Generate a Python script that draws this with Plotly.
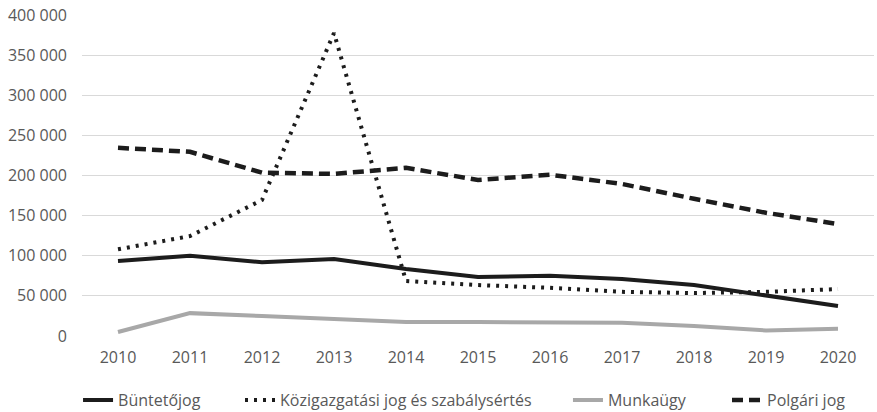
import plotly.graph_objects as go

years = ["2010", "2011", "2012", "2013", "2014", "2015", "2016", "2017", "2018", "2019", "2020"]
buntetojog = [93500, 100000, 92000, 96000, 83500, 73500, 75000, 71000, 63500, 50000, 37500]
kozigazgatasi = [108000, 124500, 169500, 377500, 68500, 63500, 60000, 55000, 53500, 55000, 58500]
munkaugy = [5000, 28500, 25000, 21000, 17500, 17500, 17000, 16500, 12500, 7000, 9000]
polgari = [234500, 229500, 203500, 202000, 209500, 194500, 201000, 189500, 171000, 153500, 139500]

y_ticks = [0, 50000, 100000, 150000, 200000, 250000, 300000, 350000, 400000]
y_ticktext = ["0", "50 000", "100 000", "150 000", "200 000", "250 000", "300 000", "350 000", "400 000"]

FONT = "Open Sans, sans-serif"
TXT = "#595959"

fig = go.Figure()
fig.add_trace(go.Scatter(x=years, y=buntetojog, name="Büntetőjog", mode="lines",
                         line=dict(color="#1c1c1c", width=4), legend="legend"))
fig.add_trace(go.Scatter(x=years, y=kozigazgatasi, name="Közigazgatási jog és szabálysértés", mode="lines",
                         line=dict(color="#1c1c1c", width=4, dash="3px,6px"), legend="legend2"))
fig.add_trace(go.Scatter(x=years, y=munkaugy, name="Munkaügy", mode="lines",
                         line=dict(color="#a8a8a8", width=4), legend="legend3"))
fig.add_trace(go.Scatter(x=years, y=polgari, name="Polgári jog", mode="lines",
                         line=dict(color="#1c1c1c", width=4.5, dash="11px,6px"), legend="legend4"))

def leg(x):
    return dict(orientation="h", x=x, xanchor="left", y=-0.2, yanchor="middle",
                font=dict(family=FONT, size=16, color=TXT), bgcolor="rgba(0,0,0,0)")

fig.update_layout(
    width=877, height=412,
    margin=dict(l=82, r=3, t=15, b=76, autoexpand=False),
    paper_bgcolor="white", plot_bgcolor="white",
    font=dict(family=FONT, size=16, color=TXT),
    showlegend=True,
    legend=leg(-0.005),
    legend2=leg(0.1995),
    legend3=leg(0.6136),
    legend4=leg(0.8144),
)
fig.update_xaxes(type="category", showgrid=False, zeroline=False, showline=False,
                 ticks="", ticklabelstandoff=10,
                 tickfont=dict(family=FONT, size=16, color=TXT), range=[-0.5, 10.5])
fig.update_yaxes(range=[0, 400000], tickvals=y_ticks, ticktext=y_ticktext,
                 showgrid=True, gridcolor="#d9d9d9", gridwidth=1, zeroline=False,
                 showline=False, ticks="", ticklabelstandoff=14,
                 tickfont=dict(family=FONT, size=16, color=TXT))

fig.write_html("out.html", config={"displayModeBar": False},
               post_script="document.body.style.margin='0';document.body.style.overflow='hidden';")
